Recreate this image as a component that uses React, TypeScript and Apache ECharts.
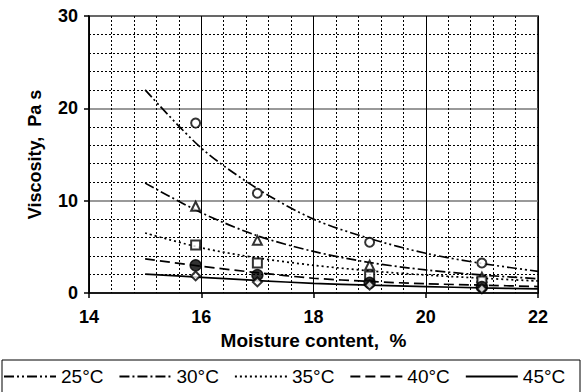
import React, { useEffect, useRef } from "react";
import * as echarts from "echarts";

const seriesNames = ["25°C", "30°C", "35°C", "40°C", "45°C"];
const markerX = [15.9, 17, 19, 21];
const obs25 = [18.4, 10.8, 5.5, 3.25];
const obs30 = [9.4, 5.7, 3.0, 1.7];
const obs35 = [5.2, 3.25, 1.85, 1.3];
const obs40 = [3.0, 1.95, 1.1, 0.65];
const obs45 = [1.85, 1.2, 0.85, 0.45];
const curveX = [15, 16, 17, 18, 19, 20, 21, 22];
const fit25 = [22.0, 15.7, 11.3, 8.0, 5.9, 4.3, 3.2, 2.35];
const fit30 = [11.9, 8.7, 6.2, 4.5, 3.3, 2.5, 1.95, 1.55];
const fit35 = [6.5, 4.9, 3.8, 3.0, 2.4, 1.95, 1.6, 1.3];
const fit40 = [3.7, 2.9, 2.2, 1.6, 1.25, 1.0, 0.85, 0.7];
const fit45 = [2.05, 1.7, 1.35, 1.05, 0.85, 0.7, 0.55, 0.45];
const xTicks = [14, 16, 18, 20, 22];
const yTicks = [0, 10, 20, 30];

const observations = [obs25, obs30, obs35, obs40, obs45];
const fits = [fit25, fit30, fit35, fit40, fit45];
const symbols = ["emptyCircle", "emptyTriangle", "emptyRect", "circle", "emptyDiamond"];
const dashes: any[] = [[10, 3, 2, 3, 2, 3], [10, 3, 2, 3], [2, 3], [10, 5], "solid"];

export default function App() {
  const ref = useRef<HTMLDivElement>(null);
  useEffect(() => {
    const chart = echarts.init(ref.current!, null, { renderer: "svg" });
    const font = "Arial, 'Liberation Sans', sans-serif";
    const lineSeries = seriesNames.map((name, i) => ({
      name,
      type: "line",
      data: curveX.map((x, j) => [x, fits[i][j]]),
      smooth: 0.3,
      symbol: "none",
      lineStyle: { color: "#000", width: 1.7, type: dashes[i] },
      itemStyle: { color: "#000" },
      z: 3,
    }));
    const scatterSeries = seriesNames.map((name, i) => ({
      name: name + " obs",
      type: "scatter",
      data: markerX.map((x, j) => [x, observations[i][j]]),
      symbol: symbols[i],
      symbolSize: i === 3 ? 11 : 9,
      itemStyle: { color: "#000", borderColor: "#000", borderWidth: 1.4 },
      z: 4,
    }));
    chart.setOption({
      animation: false,
      textStyle: { fontFamily: font },
      grid: {
        left: 89,
        top: 16,
        width: 449,
        height: 277,
        show: true,
        borderColor: "#000",
        borderWidth: 1.5,
        backgroundColor: "transparent",
      },
      xAxis: {
        type: "value",
        min: xTicks[0],
        max: xTicks[xTicks.length - 1],
        interval: 2,
        name: "Moisture content,  %",
        nameLocation: "middle",
        nameGap: 36,
        nameTextStyle: { fontSize: 19, fontWeight: "bold", color: "#000", fontFamily: font },
        axisLine: { lineStyle: { color: "#000", width: 1.5 } },
        axisTick: { show: true, length: 5, lineStyle: { color: "#000", width: 1.5 } },
        axisLabel: { fontSize: 18, fontWeight: "bold", color: "#000", margin: 15, fontFamily: font },
        splitLine: { show: true, lineStyle: { color: "#000", width: 1, type: "solid" } },
        minorTick: { show: false, splitNumber: 5 },
        minorSplitLine: { show: true, lineStyle: { color: "#000", width: 1, type: [2, 2] } },
      },
      yAxis: {
        type: "value",
        min: yTicks[0],
        max: yTicks[yTicks.length - 1],
        interval: 10,
        name: "Viscosity,  Pa s",
        nameLocation: "middle",
        nameGap: 45,
        nameTextStyle: { fontSize: 18, fontWeight: "bold", color: "#000", fontFamily: font },
        axisLine: { show: true, lineStyle: { color: "#000", width: 1.5 } },
        axisTick: { show: true, length: 5, lineStyle: { color: "#000", width: 1.5 } },
        axisLabel: { fontSize: 18, fontWeight: "bold", color: "#000", margin: 11, fontFamily: font },
        splitLine: { show: true, lineStyle: { color: "#777", width: 1.5, type: "solid" } },
        minorTick: { show: false, splitNumber: 5 },
        minorSplitLine: { show: true, lineStyle: { color: "#000", width: 1, type: [2, 2] } },
      },
      legend: {
        data: seriesNames,
        left: 3,
        top: 367,
        itemWidth: 52,
        itemHeight: 12,
        itemGap: 15,
        padding: 0,
        itemStyle: { opacity: 0 },
        lineStyle: { opacity: 1 },
        textStyle: { fontSize: 19, color: "#000", fontFamily: font },
        selectedMode: false,
      },
      graphic: [
        {
          type: "rect",
          shape: { x: 2, y: 360, width: 578, height: 40 },
          style: { fill: "none", stroke: "#000", lineWidth: 1 },
          silent: true,
        },
      ],
      series: [...lineSeries, ...scatterSeries],
    });
    return () => chart.dispose();
  }, []);
  return (
    <div
      ref={ref}
      style={{ position: "fixed", left: 0, top: 0, width: 583, height: 392, background: "#fff" }}
    />
  );
}
